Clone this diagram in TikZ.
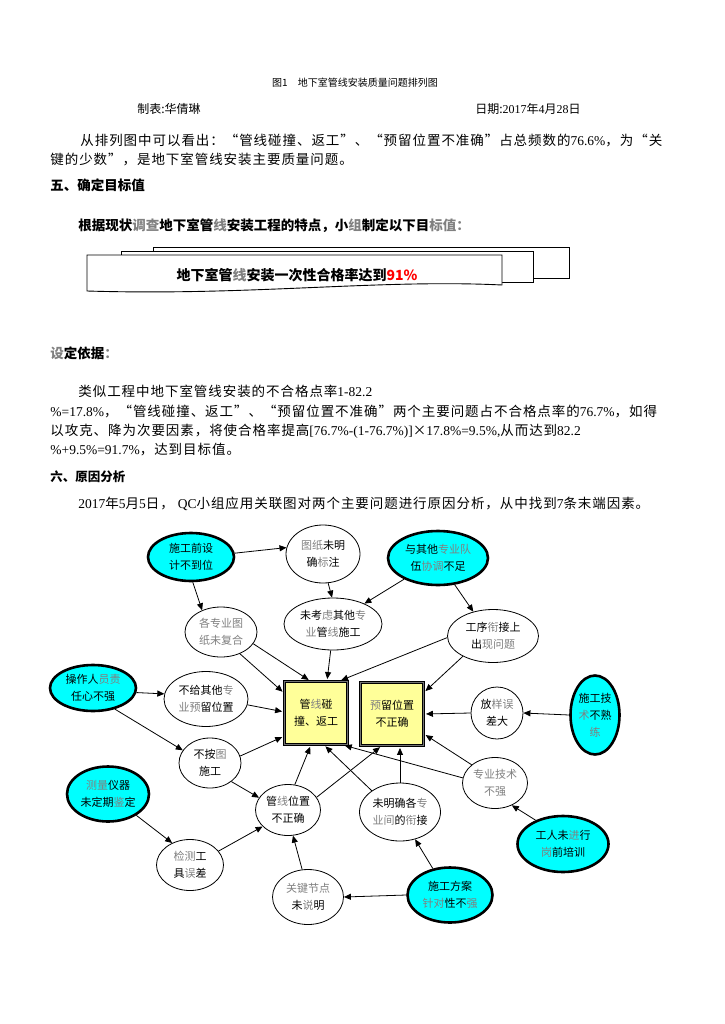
\documentclass[tikz,border=0pt]{standalone}
\usepackage{fontspec}
\setmainfont{Noto Sans CJK SC}
\newfontfamily\songti[LetterSpace=7]{Noto Sans CJK SC}
\newfontfamily\latnum{Liberation Serif}
\usetikzlibrary{arrows.meta,shapes.geometric}
\definecolor{rootcyan}{HTML}{00FFFF}
\definecolor{probyellow}{HTML}{FFFF99}
\newcommand\gch[1]{\textcolor{black!50}{#1}}
\newcommand\nm[1]{{\latnum #1}}

\begin{document}
\begin{tikzpicture}[
    x=1pt, y=-1pt, line width=0.8pt,
    body/.style={anchor=base west,inner sep=0pt,font=\songti\fontsize{13.5}{16}\selectfont},
    head/.style={anchor=base west,inner sep=0pt,font=\bfseries\fontsize{13.5}{16}\selectfont},
    small/.style={inner sep=0pt,font=\fontsize{10}{12}\selectfont},
    sheet/.style={draw,fill=white,line width=0.9pt},
    cause/.style={ellipse,draw,fill=white,line width=0.8pt,inner sep=0pt,align=center,
        font=\fontsize{11}{17}\selectfont},
    root/.style={cause,fill=rootcyan,line width=2.6pt},
    prob/.style={rectangle,draw=black,line width=0.9pt,double=black!55,double distance=1.6pt,
        fill=probyellow,inner sep=0pt,align=center,minimum width=63pt,minimum height=63pt,
        font=\fontsize{11}{17}\selectfont},
    arrow/.style={-{Triangle[length=7pt,width=6pt]},line width=0.8pt},
    tobox/.style={arrow,shorten >=2pt}
]
\path[use as bounding box] (0,0) rectangle (724,1024);

% page text above the diagram
\node[small] (cap) at (355,83) {图1\quad 地下室管线安装质量问题排列图};
\node[small,anchor=base west,font=\fontsize{12}{14}\selectfont] (maker) at (137,114) {制表:华倩琳};
\node[small,anchor=base west,font=\fontsize{12}{14}\selectfont] (date) at (475,114)
    {日期:\nm{2017}年\nm{4}月\nm{28}日};
\node[body] (l1) at (80,146)
    {从排列图中可以看出：“管线碰撞、返工”、“预留位置不准确”占总频数的\nm{76.6\%}，为“关};
\node[body] (l2) at (50,165) {键的少数”，是地下室管线安装主要质量问题。};
\node[head] (h5) at (50,191) {五、确定目标值};
\node[head] (l3) at (78,230)
    {根据现状\gch{调查}地下室管\gch{线}安装工程的特点，小\gch{组}制定以下目\gch{标值：}};

% stacked sheets with the target
\draw[sheet] (153,247) rectangle (569,278);
\draw[sheet] (121,251) rectangle (533,282);
\draw[sheet] (87,255) -- (502,255) -- (502,285)
    .. controls (380,279) and (250,296) .. (87,291) -- cycle;
\node[inner sep=0pt,font=\bfseries\fontsize{14}{16}\selectfont] (goal) at (297,275)
    {地下室管\gch{线}安装一次性合格率达到\textcolor{red}{91\%}};

\node[head] (basis) at (50,358) {\gch{设}定依据\gch{：}};
\node[body] (p1) at (78,396) {类似工程中地下室管线安装的不合格点率\nm{1-82.2}};
\node[body] (p2) at (50,416)
    {\nm{\%=17.8\%}，“管线碰撞、返工”、“预留位置不准确”两个主要问题占不合格点率的\nm{76.7\%}，如得};
\node[body] (p3) at (50,435)
    {以攻克、降为次要因素，将使合格率提高\nm{[76.7\%-(1-76.7\%)]}×\nm{17.8\%=9.5\%,}从而达到\nm{82.2}};
\node[body] (p4) at (50,454) {\nm{\%+9.5\%=91.7\%}，达到目标值。};
\node[head,font=\bfseries\fontsize{12.5}{15}\selectfont] (h6) at (50,481) {六、原因分析};
\node[body] (p5) at (78,508)
    {\nm{2017}年\nm{5}月\nm{5}日， \nm{QC}小组应用关联图对两个主要问题进行原因分析，从中找到\nm{7}条末端因素。};

% relation diagram: root causes (cyan)
\node[root,minimum width=86pt,minimum height=48pt] (sjbd) at (191,557) {施工前设\\计不到位};
\node[root,minimum width=100pt,minimum height=54pt] (xtbz) at (438,558)
    {与其他\gch{专业队}\\伍\gch{协调}不足};
\node[root,minimum width=86pt,minimum height=46pt] (zrx) at (93,688)
    {操作人\gch{员责}\\任心不强};
\node[root,minimum width=49pt,minimum height=79pt] (jsbs) at (595,715)
    {施工技\\\gch{术}不熟\\\gch{练}};
\node[root,minimum width=82pt,minimum height=55pt] (clyq) at (108,794)
    {\gch{测量}仪器\\未定期\gch{鉴}定};
\node[root,minimum width=91pt,minimum height=56pt] (gwpx) at (563,844)
    {工人未\gch{进}行\\\gch{岗}前培训};
\node[root,minimum width=85pt,minimum height=55pt] (fazd) at (450,895)
    {施工方案\\\gch{针对}性不\gch{强}};

% intermediate causes
\node[cause,minimum width=74pt,minimum height=58pt] (tzwm) at (323,554) {\gch{图纸}未明\\确\gch{标}注};
\node[cause,minimum width=72pt,minimum height=50pt] (gztz) at (221,632)
    {\gch{各专业图}\\\gch{纸未复合}};
\node[cause,minimum width=98pt,minimum height=52pt] (wkqt) at (333,624)
    {未考\gch{虑}其他\gch{专}\\\gch{业}管\gch{线}施工};
\node[cause,minimum width=91pt,minimum height=53pt] (gxwt) at (493,636)
    {工序\gch{衔}接上\\出\gch{现问题}};
\node[cause,minimum width=84pt,minimum height=55pt] (bgyl) at (206,699)
    {不给其他\gch{专}\\\gch{业预}留位置};
\node[cause,minimum width=52pt,minimum height=52pt] (fywc) at (497,713) {放\gch{样误}\\差大};
\node[cause,minimum width=62pt,minimum height=50pt] (batu) at (210,763) {不按\gch{图}\\施工};
\node[cause,minimum width=65pt,minimum height=51pt] (zyjs) at (495,783) {\gch{专业技术}\\\gch{不强}};
\node[cause,minimum width=65pt,minimum height=51pt] (gxwz) at (288,810) {管\gch{线}位置\\不正确};
\node[cause,minimum width=81pt,minimum height=58pt] (wmxj) at (400,812)
    {未明确各\gch{专}\\\gch{业间}的\gch{衔}接};
\node[cause,minimum width=67pt,minimum height=51pt] (jcwc) at (190,865) {\gch{检测}工\\具\gch{误}差};
\node[cause,minimum width=71pt,minimum height=55pt] (gjjd) at (308,897) {\gch{关键节点}\\未\gch{说}明};

% the two main problems
\node[prob] (pzfg) at (316,713) {管\gch{线}碰\\撞、返工};
\node[prob] (ylwz) at (392,714) {\gch{预}留位置\\不正确};

\draw[arrow] (sjbd.5) -- (tzwm.170);
\draw[arrow] (sjbd.-86) -- (gztz.131);
\draw[arrow] (tzwm.-80) -- (wkqt.92);
\draw[arrow] (xtbz.212) -- (wkqt.33);
\draw[arrow] (xtbz.-58) -- (gxwt.129);
\draw[tobox] (gztz.-20) -- (pzfg.100);
\draw[tobox] (gztz.-49) -- (pzfg.148);
\draw[tobox] (wkqt.-95) -- (pzfg.71);
\draw[tobox] (gxwt.182) -- (pzfg.54);
\draw[tobox] (gxwt.214) -- (ylwz.34);
\draw[arrow] (zrx.-6) -- (bgyl.173);
\draw[arrow] (zrx.-44) -- (batu.155);
\draw[tobox] (bgyl.-8) -- (pzfg.178);
\draw[tobox] (batu.13) -- (pzfg.216);
\draw[arrow] (batu.-41) -- (gxwz.157);
\draw[tobox] (fywc.west) -- (ylwz.east);
\draw[arrow] (jsbs.west) -- (fywc.east);
\draw[tobox] (zyjs.171) -- (pzfg.-50);
\draw[tobox] (zyjs.142) -- (ylwz.-32);
\draw[arrow] (gwpx.139) -- (zyjs.-53);
\draw[tobox] (gxwz.75) -- (pzfg.-99);
\draw[tobox] (gxwz.24) -- (ylwz.-108);
\draw[tobox] (wmxj.143) -- (pzfg.-76);
\draw[tobox] (wmxj.north) -- (wmxj.north |- ylwz.south);
\draw[arrow] (clyq.-37) -- (jcwc.129);
\draw[arrow] (jcwc.26) -- (gxwz.213);
\draw[arrow] (gjjd.102) -- (gxwz.-79);
\draw[arrow] (fazd.west) -- (gjjd.east);
\draw[arrow] (fazd.123) -- (wmxj.-61);
\end{tikzpicture}
\end{document}
